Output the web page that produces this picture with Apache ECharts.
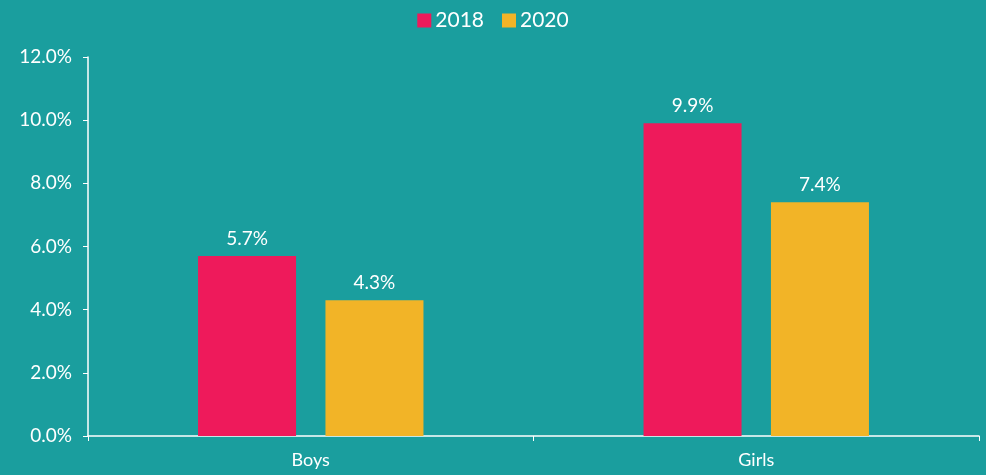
<!DOCTYPE html>
<html>
<head>
<meta charset="utf-8">
<script src="https://cdn.jsdelivr.net/npm/echarts@6/dist/echarts.min.js"></script>
<style>
  html, body { margin: 0; padding: 0; background: #1a9e9e; }
  #chart { width: 986px; height: 475px; }
</style>
</head>
<body>
<div id="chart"></div>
<script>
const categories = ['Boys', 'Girls'];
const values2018 = [5.7, 9.9];
const values2020 = [4.3, 7.4];
const yTicks = [0, 2, 4, 6, 8, 10, 12];

const chart = echarts.init(document.getElementById('chart'));
const font = 'Lato, "Open Sans", sans-serif';

const pct = (v) => v.toFixed(1) + '%';

let option = {
  backgroundColor: '#1a9e9e',
  color: ['#ee1a5b', '#f2b427'],
  textStyle: { fontFamily: font },
  legend: {
    top: 5,
    left: 'center',
    itemWidth: 14,
    itemHeight: 14,
    itemGap: 18,
    icon: 'rect',
    textStyle: { color: '#ffffff', fontSize: 21, fontFamily: font, padding: [0, 0, 0, -1] }
  },
  grid: { left: 88, right: 7, top: 57, bottom: 39 },
  xAxis: {
    type: 'category',
    data: categories,
    axisLine: { lineStyle: { color: '#ffffff', width: 1.5 } },
    axisTick: { show: true, length: 5, lineStyle: { color: '#ffffff' } },
    axisLabel: { color: '#ffffff', fontSize: 18, margin: 15, fontFamily: font }
  },
  yAxis: {
    type: 'value',
    min: yTicks[0],
    max: yTicks[yTicks.length - 1],
    interval: 2,
    axisLine: { show: true, lineStyle: { color: '#ffffff', width: 1.5 } },
    axisTick: { show: true, length: 5, lineStyle: { color: '#ffffff' } },
    splitLine: { show: false },
    axisLabel: {
      color: '#ffffff', fontSize: 19, margin: 16, fontFamily: font,
      formatter: pct
    }
  },
  series: [
    {
      name: '2018', type: 'bar', data: values2018,
      barWidth: '22%', barGap: '30%',
      label: { show: true, position: 'top', color: '#ffffff', fontSize: 19, distance: 8, fontFamily: font,
        formatter: (p) => pct(p.value) }
    },
    {
      name: '2020', type: 'bar', data: values2020,
      barWidth: '22%', barGap: '30%',
      label: { show: true, position: 'top', color: '#ffffff', fontSize: 19, distance: 8, fontFamily: font,
        formatter: (p) => pct(p.value) }
    }
  ]
};
chart.setOption(option);
</script>
</body>
</html>
